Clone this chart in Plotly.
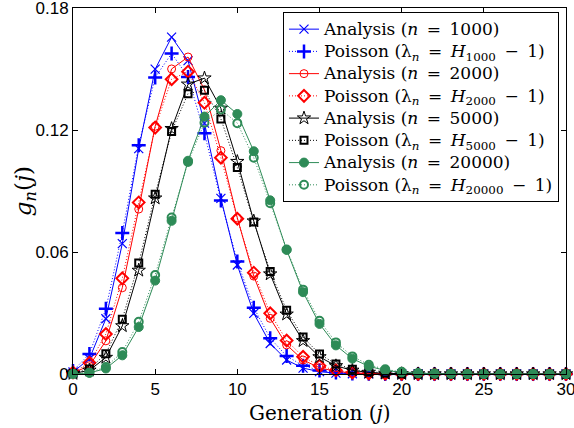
import plotly.graph_objects as go

generation = list(range(31))

analysis_1000 = [0.001, 0.007485, 0.027190, 0.064136, 0.110812, 0.149909, 0.165699, 0.154147,
                 0.123359, 0.086363, 0.053604, 0.029819, 0.015002, 0.006877, 0.002901, 0.001137,
                 0.000415, 0.000141, 0.000044, 0.000013, 0.000004] + [0.0] * 10
poisson_1000 = [0.001525, 0.009893, 0.03208, 0.06935, 0.11244, 0.14585, 0.15765, 0.14606,
                0.11841, 0.08533, 0.05534, 0.03263, 0.01763, 0.008797, 0.004075, 0.001762,
                0.000714, 0.000272, 0.000098, 0.000034, 0.000011] + [0.0] * 10
analysis_2000 = [0.0005, 0.004089, 0.016309, 0.042417, 0.081110, 0.121851, 0.150026, 0.155907,
                 0.139742, 0.109847, 0.076733, 0.048148, 0.027381, 0.014298, 0.006888, 0.003072,
                 0.001266, 0.000491, 0.000177, 0.00006, 0.00002, 0.000006] + [0.0] * 9
poisson_2000 = [0.000763, 0.005476, 0.019655, 0.04703, 0.08440, 0.12117, 0.14497, 0.14867,
                0.13340, 0.10640, 0.07638, 0.04984, 0.02982, 0.01646, 0.008442, 0.004040,
                0.001813, 0.000765, 0.000305, 0.000115, 0.000041, 0.000014] + [0.0] * 9
analysis_5000 = [0.0002, 0.001819, 0.008106, 0.023657, 0.050945, 0.086476, 0.120665, 0.142503,
                 0.145527, 0.130648, 0.104466, 0.075191, 0.049149, 0.029392, 0.016322, 0.0084,
                 0.004017, 0.001796, 0.000753, 0.000298, 0.000111, 0.000039, 0.000013, 0.000004] + [0.0] * 7
poisson_5000 = [0.000305, 0.002471, 0.009999, 0.026978, 0.054594, 0.088382, 0.11924, 0.13788,
                0.13951, 0.12547, 0.10156, 0.07473, 0.05041, 0.03139, 0.01815, 0.009794,
                0.004955, 0.002359, 0.001061, 0.000452, 0.000183, 0.000071, 0.000026, 0.000009] + [0.0] * 7
analysis_20000 = [0.00005, 0.000524, 0.002705, 0.009183, 0.023093, 0.045931, 0.075335, 0.104878,
                  0.126593, 0.134663, 0.127881, 0.109556, 0.085411, 0.06104, 0.04024, 0.02463,
                  0.014079, 0.007534, 0.003785, 0.001792, 0.000801, 0.000338, 0.000136, 0.000052,
                  0.000019, 0.000007] + [0.0] * 5
poisson_20000 = [0.000076, 0.000723, 0.00343, 0.010838, 0.025688, 0.048708, 0.076965, 0.10424,
                 0.12353, 0.13013, 0.12337, 0.10633, 0.08401, 0.06127, 0.04149, 0.02622,
                 0.01554, 0.008666, 0.004565, 0.002278, 0.00108, 0.000487, 0.00021, 0.000087,
                 0.000034, 0.000013, 0.000005] + [0.0] * 4

x_ticks = [0, 5, 10, 15, 20, 25, 30]
y_ticks = [0, 0.06, 0.12, 0.18]
y_tick_text = ["0", "0.06", "0.12", "0.18"]

BLUE = "#0000ff"
RED = "#ff0000"
BLACK = "#000000"
GREEN = "#2e8b57"

SP = "\u2002"  # en space (math-style spacing around relations)


def leg(txt):
    return f'<span style="font-size:17px">{txt}</span>'


series = [
    (leg(f"Analysis (<i>n</i>{SP}={SP}1000)"), analysis_1000, BLUE, "solid", "x-thin-open", 9, 1.2),
    (leg(f"Poisson (λ<sub><i>n</i></sub>{SP}={SP}<i>H</i><sub>1000</sub>{SP}−{SP}1)"), poisson_1000, BLUE, "1px,2px", "cross-thin-open", 10, 2.5),
    (leg(f"Analysis (<i>n</i>{SP}={SP}2000)"), analysis_2000, RED, "solid", "circle-open", 8, 1),
    (leg(f"Poisson (λ<sub><i>n</i></sub>{SP}={SP}<i>H</i><sub>2000</sub>{SP}−{SP}1)"), poisson_2000, RED, "1px,2px", "diamond-open", 9, 2),
    (leg(f"Analysis (<i>n</i>{SP}={SP}5000)"), analysis_5000, BLACK, "solid", "star-open", 10, 1),
    (leg(f"Poisson (λ<sub><i>n</i></sub>{SP}={SP}<i>H</i><sub>5000</sub>{SP}−{SP}1)"), poisson_5000, BLACK, "1px,2px", "square-open", 7, 2),
    (leg(f"Analysis (<i>n</i>{SP}={SP}20000)"), analysis_20000, GREEN, "solid", "circle", 9, 1),
    (leg(f"Poisson (λ<sub><i>n</i></sub>{SP}={SP}<i>H</i><sub>20000</sub>{SP}−{SP}1)"), poisson_20000, GREEN, "1px,2px", "circle-open", 8, 2),
]

fig = go.Figure()
for name, vals, color, dash, sym, size, mlw in series:
    fig.add_trace(go.Scatter(
        x=generation, y=vals, name=name, mode="lines+markers",
        line=dict(color=color, width=1, dash=dash),
        marker=dict(symbol=sym, size=size, color=color, line=dict(color=color, width=mlw)),
        cliponaxis=False,
    ))

axis_common = dict(
    showline=True, linecolor="black", linewidth=1, mirror="ticks",
    ticks="inside", ticklen=5, tickcolor="black", showgrid=False, zeroline=False,
    automargin=False, ticklabeloverflow="allow",
    tickfont=dict(family="Liberation Sans, Arial, sans-serif", size=17, color="black"),
)

fig.update_layout(
    width=574, height=428,
    margin=dict(l=73, r=8, t=8, b=54),
    paper_bgcolor="white", plot_bgcolor="white",
    xaxis=dict(range=[0, 30], tickvals=x_ticks, **axis_common),
    yaxis=dict(range=[0, 0.18], tickvals=y_ticks, ticktext=y_tick_text, **axis_common),
    legend=dict(
        x=0.9858, y=0.989, xanchor="right", yanchor="top",
        bgcolor="white", bordercolor="black", borderwidth=1,
        font=dict(family="DejaVu Serif, serif", size=14.8, color="black"),
        tracegroupgap=0, itemwidth=30,
    ),
    annotations=[
        dict(text="Generation (<i>j</i>)", xref="paper", yref="paper",
             x=0.5, y=-0.106, xanchor="center", yanchor="middle", showarrow=False,
             font=dict(family="DejaVu Serif, serif", size=20, color="black")),
        dict(text="<i>g<sub>n</sub></i>(<i>j</i>)", xref="paper", yref="paper",
             x=-0.097, y=0.5, xanchor="center", yanchor="middle", textangle=-90,
             showarrow=False,
             font=dict(family="DejaVu Serif, serif", size=23, color="black")),
    ],
    showlegend=True,
)

fig.write_html("out.html", config={"displayModeBar": False},
               post_script="document.body.style.margin='0';")
